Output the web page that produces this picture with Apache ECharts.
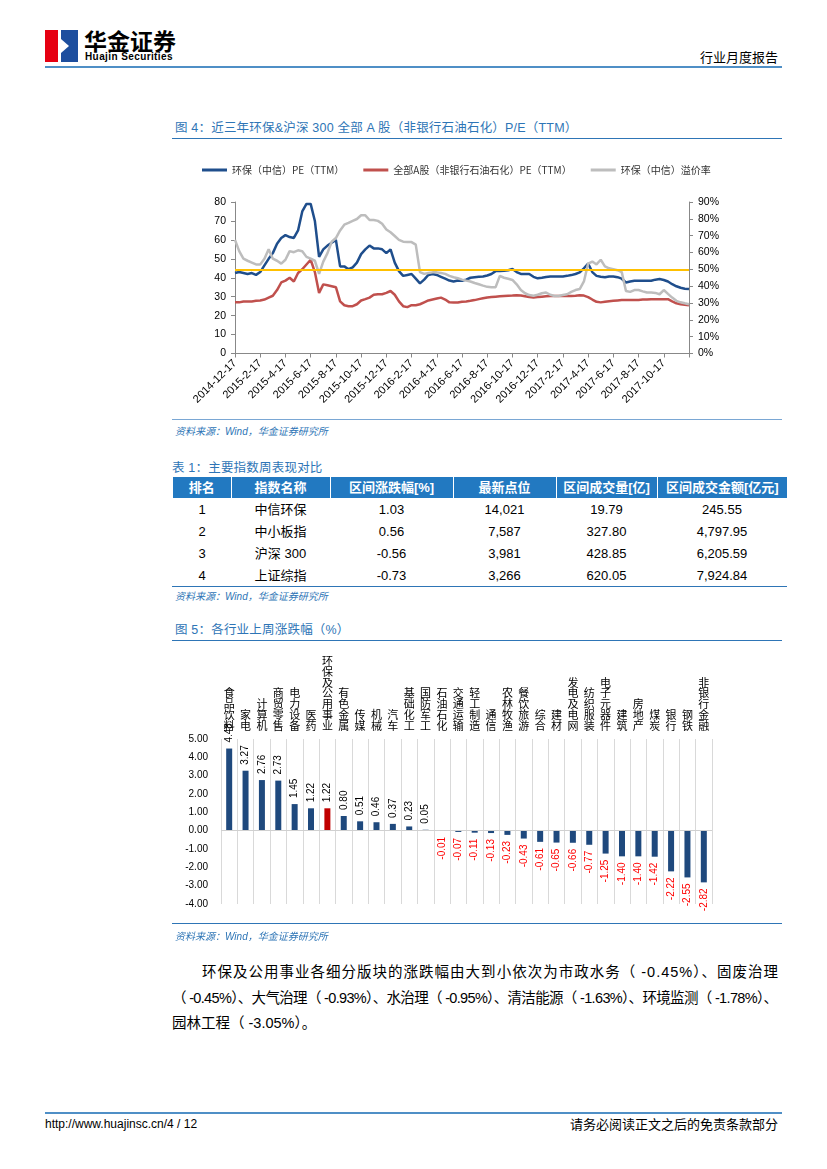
<!DOCTYPE html>
<html><head><meta charset="utf-8">
<script src="https://cdn.jsdelivr.net/npm/echarts@6/dist/echarts.min.js"></script>
<style>
html,body{margin:0;padding:0;background:#fff}
body{width:827px;height:1169px;position:relative;overflow:hidden;font-family:"Liberation Sans","Noto Sans CJK SC",sans-serif;color:#000}
.a{position:absolute;white-space:nowrap}
.ttl{position:absolute;font-size:12.5px;line-height:14px;color:#2E75B6;white-space:nowrap;letter-spacing:0.2px}
.rule{position:absolute;height:0;border-top:1.5px solid #2E75B6}
.src{position:absolute;font-size:10px;line-height:12px;color:#2E75B6;font-style:italic;white-space:nowrap}
#line{position:absolute;left:170px;top:145px;width:570px;height:275px}
#bar{position:absolute;left:170px;top:645px;width:560px;height:285px}
table{position:absolute;left:173px;top:477px;border-collapse:collapse;table-layout:fixed;width:614px}
th{background:#2279C1;color:#fff;font-weight:bold;font-size:13px;line-height:15px;height:21px;padding:0;border-left:1px solid #fff;text-align:center;font-family:"Liberation Sans","Noto Sans CJK SC"}
th:first-child{border-left:none}
td{height:22px;padding:0;text-align:center;font-size:13px;line-height:15px}
.p{position:absolute;font-size:14.5px;line-height:20px;white-space:nowrap;font-family:"Liberation Sans","Noto Sans CJK SC"}
</style></head>
<body>
<!-- header -->
<svg class="a" style="left:44px;top:29px" width="36" height="34">
  <rect x="1" y="1" width="13" height="32" fill="#E60012"/>
  <rect x="17" y="1" width="17" height="32" fill="#1D4E9E"/>
  <polygon points="17,10 25,17 17,24" fill="#fff"/>
  <rect x="14" y="15" width="6" height="4" fill="#fff"/>
</svg>
<div class="a" style="left:84px;top:26px;font-size:23px;line-height:28px;font-weight:bold;font-family:'Noto Sans CJK SC'">华金证券</div>
<div class="a" style="left:85px;top:51px;font-size:10px;line-height:12px;font-weight:bold;letter-spacing:0.4px;font-family:'Liberation Sans'">Huajin Securities</div>
<div class="a" style="right:49px;top:49px;font-size:13px;line-height:16px;font-family:'Noto Sans CJK SC'">行业月度报告</div>
<div class="a" style="left:45px;top:66px;width:737px;height:2px;background:#4F8FC6"></div>

<!-- figure 4 -->
<div class="ttl" style="left:175px;top:121px">图 4：近三年环保&amp;沪深 300 全部 A 股（非银行石油石化）P/E（TTM）</div>
<div class="rule" style="left:172px;top:138px;width:610px"></div>
<div id="line"></div>
<div class="rule" style="left:172px;top:419px;width:610px;border-top:1px solid #7AA7D4"></div>
<div class="src" style="left:175px;top:426px">资料来源：Wind，华金证券研究所</div>

<!-- table 1 -->
<div class="ttl" style="left:172px;top:461px">表 1：主要指数周表现对比</div>
<table>
<colgroup><col style="width:58px"><col style="width:99px"><col style="width:123px"><col style="width:103px"><col style="width:101px"><col style="width:130px"></colgroup>
<thead><tr id="thead"></tr></thead>
<tbody id="tbody"></tbody>
</table>
<div class="rule" style="left:172px;top:586px;width:615px;border-top:1px solid #2E75B6"></div>
<div class="src" style="left:175px;top:591px">资料来源：Wind，华金证券研究所</div>

<!-- figure 5 -->
<div class="ttl" style="left:175px;top:623px">图 5：各行业上周涨跌幅（%）</div>
<div class="rule" style="left:172px;top:640px;width:610px"></div>
<div id="bar"></div>
<div class="rule" style="left:172px;top:923px;width:610px;border-top:1px solid #2E75B6"></div>
<div class="src" style="left:175px;top:931px">资料来源：Wind，华金证券研究所</div>

<!-- paragraph -->
<div class="p fill" data-w="576" style="left:202px;top:962px">环保及公用事业各细分版块的涨跌幅由大到小依次为市政水务（ -0.45%）、固废治理</div>
<div class="p fill" data-w="606" style="left:172px;top:988px">（ -0.45%）、大气治理（ -0.93%）、水治理（ -0.95%）、清洁能源（ -1.63%）、环境监测（ -1.78%）、</div>
<div class="p" style="left:172px;top:1013px">园林工程（ -3.05%）。</div>

<!-- footer -->
<div class="a" style="left:45px;top:1112px;width:737px;height:1.5px;background:#4F8FC6"></div>
<div class="a" style="left:45px;top:1117px;font-size:12px;line-height:14px;font-family:'Liberation Sans'">http://www.huajinsc.cn/4 / 12</div>
<div class="a" style="right:49px;top:1116px;font-size:13px;line-height:16px;font-family:'Noto Sans CJK SC'">请务必阅读正文之后的免责条款部分</div>

<script>
// ---------- Figure 4 data ----------
const dates = ['2014-12-17','2014-12-27',
'2015-1-7','2015-1-17','2015-1-27','2015-2-7','2015-2-17','2015-2-27','2015-3-7','2015-3-17','2015-3-27','2015-4-7','2015-4-17','2015-4-27',
'2015-5-7','2015-5-17','2015-5-27','2015-6-7','2015-6-17','2015-6-27','2015-7-7','2015-7-17','2015-7-27','2015-8-7','2015-8-17','2015-8-27',
'2015-9-7','2015-9-17','2015-9-27','2015-10-7','2015-10-17','2015-10-27','2015-11-7','2015-11-17','2015-11-27','2015-12-7','2015-12-17','2015-12-27',
'2016-1-7','2016-1-17','2016-1-27','2016-2-7','2016-2-17','2016-2-27','2016-3-7','2016-3-17','2016-3-27','2016-4-7','2016-4-17','2016-4-27',
'2016-5-7','2016-5-17','2016-5-27','2016-6-7','2016-6-17','2016-6-27','2016-7-7','2016-7-17','2016-7-27','2016-8-7','2016-8-17','2016-8-27',
'2016-9-7','2016-9-17','2016-9-27','2016-10-7','2016-10-17','2016-10-27','2016-11-7','2016-11-17','2016-11-27','2016-12-7','2016-12-17','2016-12-27',
'2017-1-7','2017-1-17','2017-1-27','2017-2-7','2017-2-17','2017-2-27','2017-3-7','2017-3-17','2017-3-27','2017-4-7','2017-4-17','2017-4-27',
'2017-5-7','2017-5-17','2017-5-27','2017-6-7','2017-6-17','2017-6-27','2017-7-7','2017-7-17','2017-7-27','2017-8-7','2017-8-17','2017-8-27',
'2017-9-7','2017-9-17','2017-9-27','2017-10-7','2017-10-17','2017-10-27','2017-11-7','2017-11-17','2017-11-27','2017-12-7','2017-12-17'];

const envPE = [42.5,43,42.5,42,42.5,41.5,43,46.5,50,53,
58,61,62.5,61.5,61,65,75,79,79,70,
51,55,57,58.5,60,46,46,44.5,45.5,48,
52.5,55,57,55.5,55.5,55,53,55,48,43.5,
41,41.5,42,39.5,37,39,41.5,42,41.5,40.5,
39.5,38.5,38,38.5,38.4,39,40,40.3,40.5,40.7,
41.2,42,43.5,43.5,43.7,44,44.6,43,42,42,
42,40.5,39.7,40,40.4,40.7,40.7,40.7,40.7,41,
41.4,42,42.8,45,47.5,43,41,40.5,40.3,40.7,
40.7,40.3,39.5,37.5,38,38.4,38.4,38.4,38.4,38.4,
39,39.3,38.8,38,36.6,35.5,34.7,34.2,34];

const allAPE = [27,27,27.5,27.5,27.5,27.8,28,28.5,29.5,30.5,
33.5,37.5,38.5,40,38,42.5,44.5,47,49.5,43,
32,36.5,36,35.5,35,27.5,25.5,25,25,26,
28,28.7,29.5,31,31.3,31.3,32,33,31,27.5,
25,24.5,25.5,25.5,26,27,28,28.5,29,29.5,
28.5,27,26.9,26.9,27.3,27.5,27.8,28.2,28.7,29.2,
29.6,29.8,30,30.2,30.4,30.5,30.6,30.8,30.6,30.2,
29.8,29.6,29.8,30,30.2,30.4,30.4,30.4,30.4,30.4,
30.4,30.5,30.8,30.6,29.8,28.5,27.3,27,27.3,27.6,
27.8,28,28.2,28.3,28.3,28.3,28.3,28.5,28.5,28.7,
28.7,28.7,28.7,28.7,27.5,26.5,26,25.8,25.5];

const premium = [67.5,60.8,56.3,55.1,54,52.9,52.9,56.3,61.9,56.3,
55.1,53.4,55.7,60.8,60.2,61.3,60.8,57.4,56.3,55.1,
47.3,54.6,59.6,66.4,68.6,73.1,76.5,77.6,78.8,79.9,
82.1,82.1,79.3,79.3,78.8,77.1,73.7,72,69.8,67.5,
66.4,66.2,66.2,64.7,48.4,47.3,47.8,48.2,48.2,47.8,
47.3,46.1,45.3,44.7,43.9,43.3,42.8,41.9,41.1,40.3,
39.6,39.3,39.4,46.1,45,44.4,43.7,41.1,37.7,35.8,
34.7,34.3,34.9,35.8,36.2,34.9,34.2,34.2,34.7,35.2,
36.6,37.7,38.3,42.8,53.4,54.6,52.9,55.7,51.8,50.6,
50.1,49.5,48.4,37.1,36.6,37.7,37.7,36.9,36.2,36.2,
36,35.2,37.7,35.4,33.2,31.3,30.4,29.8,29.3];

const premiumRef = 50;
const seriesNames = ['环保（中信）PE（TTM）','全部A股（非银行石油石化）PE（TTM）','环保（中信）溢价率'];

// ---------- Table 1 data ----------
const tableHeader = ['排名','指数名称','区间涨跌幅[%]','最新点位','区间成交量[亿]','区间成交金额[亿元]'];
const tableRank = ['1','2','3','4'];
const tableName = ['中信环保','中小板指','沪深 300','上证综指'];
const tableChg = ['1.03','0.56','-0.56','-0.73'];
const tableLast = ['14,021','7,587','3,981','3,266'];
const tableVol = ['19.79','327.80','428.85','620.05'];
const tableAmt = ['245.55','4,797.95','6,205.59','7,924.84'];

// ---------- Figure 5 data ----------
const industries = ['食品饮料','家电','计算机','商贸零售','电力设备','医药','环保及公用事业','有色金属','传媒','机械','汽车','基础化工','国防军工','石油石化','交通运输','轻工制造','通信','农林牧渔','餐饮旅游','综合','建材','发电及电网','纺织服装','电子元器件','建筑','房地产','煤炭','银行','钢铁','非银行金融'];
const weeklyChg = [4.48,3.27,2.76,2.73,1.45,1.22,1.22,0.80,0.51,0.46,0.37,0.23,0.05,-0.01,-0.07,-0.11,-0.13,-0.23,-0.43,-0.61,-0.65,-0.66,-0.77,-1.25,-1.40,-1.40,-1.42,-2.22,-2.55,-2.82];
const highlightIndustry = '环保及公用事业';

// ---------- paragraph fill (justify single lines) ----------
document.querySelectorAll('.fill').forEach(el=>{
  const target = +el.dataset.w;
  const n = el.textContent.length;
  const w = el.getBoundingClientRect().width;
  el.style.letterSpacing = ((target - w)/(n-1)) + 'px';
});

// ---------- table build ----------
document.getElementById('thead').innerHTML = tableHeader.map(h=>'<th>'+h+'</th>').join('');
let rows='';
for(let i=0;i<tableRank.length;i++){
  rows += '<tr>'+[tableRank[i],tableName[i],tableChg[i],tableLast[i],tableVol[i],tableAmt[i]].map(c=>'<td>'+c+'</td>').join('')+'</tr>';
}
document.getElementById('tbody').innerHTML = rows;

// ---------- line chart ----------
const lc = echarts.init(document.getElementById('line'), null, {renderer:'canvas'});
const axisGray = '#888888';
lc.setOption({
  animation:false,
  textStyle:{fontFamily:'Liberation Sans, Noto Sans CJK SC'},
  legend:{left:27, top:15, itemWidth:25, itemHeight:3, itemGap:19, icon:'rect',
    textStyle:{fontSize:10, color:'#333', fontFamily:'Noto Sans CJK SC'}, data:seriesNames},
  grid:{left:65, right:51, top:57, bottom:66.5},
  xAxis:{type:'category', data:dates, boundaryGap:false,
    axisLine:{lineStyle:{color:axisGray}},
    axisTick:{interval:(i)=>i%6===0, length:4, lineStyle:{color:axisGray}},
    axisLabel:{interval:(i)=>i%6===0 && i<=102, rotate:45, fontSize:11, color:'#000', margin:8, fontFamily:'Liberation Sans'}},
  yAxis:[
    {type:'value', min:0, max:80, interval:10,
      axisLine:{show:true, lineStyle:{color:axisGray}}, axisTick:{show:true, length:4, lineStyle:{color:axisGray}},
      splitLine:{show:false}, axisLabel:{fontSize:10.5, color:'#000', margin:9, fontFamily:'Liberation Sans'}},
    {type:'value', min:0, max:90, interval:10, position:'right',
      axisLine:{show:true, lineStyle:{color:axisGray}}, axisTick:{show:true, length:4, lineStyle:{color:axisGray}},
      splitLine:{show:false}, axisLabel:{fontSize:10.5, color:'#000', margin:9, formatter:'{value}%', fontFamily:'Liberation Sans'}}
  ],
  series:[
    {name:seriesNames[0], type:'line', data:envPE, showSymbol:false, lineStyle:{width:2.5, color:'#1F4E8C'}, itemStyle:{color:'#1F4E8C'}, z:3},
    {name:seriesNames[1], type:'line', data:allAPE, showSymbol:false, lineStyle:{width:2.5, color:'#C0504D'}, itemStyle:{color:'#C0504D'}, z:2},
    {name:seriesNames[2], type:'line', yAxisIndex:1, data:premium, showSymbol:false, lineStyle:{width:2.5, color:'#BDBDBD'}, itemStyle:{color:'#BDBDBD'}, z:4,
      markLine:{silent:true, symbol:'none', label:{show:false}, lineStyle:{color:'#FFC000', width:2, type:'solid'}, data:[{yAxis:premiumRef}]}}
  ]
});

// ---------- bar chart ----------
const bc = echarts.init(document.getElementById('bar'), null, {renderer:'canvas'});
const barData = weeklyChg.map((v,i)=>({
  value:v,
  itemStyle:{color: industries[i]===highlightIndustry ? '#C00000' : '#1F497D'},
  label:{show:true, position: v>=0?'top':'bottom', rotate:90, align: v>=0?'left':'right', verticalAlign:'middle',
         distance:6, color: v>=0?'#000':'#FF0000', fontSize:10, fontFamily:'Liberation Sans', formatter:(p)=>p.value.toFixed(2)}
}));
bc.setOption({
  animation:false,
  grid:{left:51, right:18, top:94, bottom:26},
  xAxis:{type:'category', position:'top', data:industries,
    axisLine:{show:false}, axisTick:{show:false},
    splitLine:{show:true, interval:0, lineStyle:{color:'#D9D9D9', width:1}},
    axisLabel:{interval:0, formatter:(s)=>s.split('').join('\n'), fontSize:11, lineHeight:10.8, color:'#000', verticalAlign:'bottom', margin:8, fontFamily:'Noto Sans CJK SC'}},
  yAxis:{type:'value', min:-4, max:5, interval:1,
    axisLine:{show:false}, axisTick:{show:false}, splitLine:{show:false},
    axisLabel:{formatter:(v)=>v.toFixed(2), fontSize:10, color:'#000', margin:13, fontFamily:'Liberation Sans'}},
  series:[{type:'bar', barWidth:6, data:barData,
    markLine:{silent:true, symbol:'none', label:{show:false}, lineStyle:{color:'#D0D0D0', width:1, type:'solid'}, data:[{yAxis:0}]}}]
});
</script>
</body></html>
